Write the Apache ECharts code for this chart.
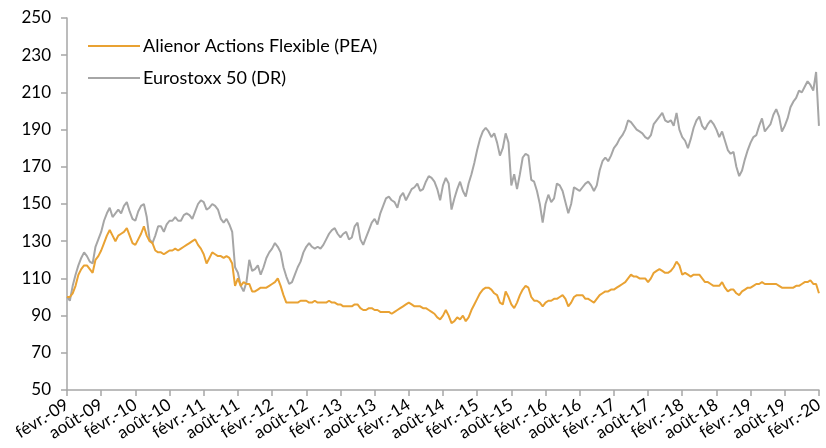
<!DOCTYPE html>
<html>
<head>
<meta charset="utf-8">
<script src="https://cdn.jsdelivr.net/npm/echarts@6/dist/echarts.min.js"></script>
<style>html,body{margin:0;padding:0;background:#fff;}#c{width:826px;height:448px;}</style>
</head>
<body>
<div id="c"></div>
<script>
// Semi-monthly readings, Feb 2009 -> Feb 2020
var tickLabels = ['févr.-09','août-09','févr.-10','août-10','févr.-11','août-11','févr.-12','août-12','févr.-13','août-13','févr.-14','août-14','févr.-15','août-15','févr.-16','août-16','févr.-17','août-17','févr.-18','août-18','févr.-19','août-19','févr.-20'];
var seriesNames = ['Alienor Actions Flexible (PEA)', 'Eurostoxx 50 (DR)'];
var alienor = [
100,100,102,106,112,115,117,117,115,113,
120,122,125,129,133,136,133,130,133,134,
135,137,133,129,128,131,134,138,133,130,
129,125,124,124,123,124,125,125,126,125,
126,127,128,129,130,131,128,126,123,118,
121,124,123,122,122,121,122,121,118,106,
110,106,108,107,107,103,103,104,105,105,
105,106,107,108,110,106,101,97,97,97,
97,97,98,98,98,97,97,98,97,97,
97,97,98,97,97,96,96,95,95,95,
95,96,96,94,93,93,94,94,93,93,
92,92,92,92,91,92,93,94,95,96,
97,96,95,95,95,94,94,93,92,91,
89,88,90,93,90,86,87,89,88,90,
87,89,93,96,99,102,104,105,105,104,
102,101,97,96,103,100,96,94,97,101,
104,106,105,100,98,98,97,95,97,98,
98,99,99,100,101,99,95,97,100,101,
101,101,99,99,98,97,99,101,102,103,
103,104,104,105,106,107,108,110,112,111,
111,110,110,110,108,110,113,114,115,114,
113,113,114,116,119,117,112,113,112,111,
112,112,112,110,108,108,107,106,106,106,
108,105,103,104,104,102,101,103,104,105,
105,106,107,107,108,107,107,107,107,107,
106,105,105,105,105,105,106,106,107,108,
108,109,107,107,102
];
var eurostoxx = [
100,98,106,112,117,121,124,122,119,118,
127,131,135,141,145,148,143,145,147,145,
149,151,146,142,141,146,149,150,143,131,
129,133,138,138,135,139,141,141,143,141,
141,144,145,144,142,146,150,152,151,147,
148,150,149,147,142,140,142,139,135,116,
113,106,103,108,120,114,115,117,112,116,
121,124,126,129,127,124,116,111,107,108,
112,116,119,124,127,129,127,126,127,126,
128,131,134,136,137,134,132,134,135,131,
132,138,140,131,128,132,136,140,142,139,
145,149,153,154,152,151,148,154,156,152,
155,158,159,161,157,158,162,165,164,162,
158,152,160,164,161,147,153,158,162,157,
154,161,166,172,179,185,189,191,189,186,
188,183,176,180,188,183,160,166,158,166,
175,177,176,163,162,157,150,140,150,155,
151,153,161,160,157,151,145,150,159,158,
157,159,161,162,160,157,160,168,173,175,
173,176,180,182,185,187,190,195,194,192,
190,189,188,186,185,187,193,195,197,199,
195,194,195,192,199,190,186,184,180,185,
191,195,197,192,190,193,195,193,190,186,
189,184,179,177,178,170,165,168,174,179,
183,186,187,192,196,189,191,193,198,201,
197,189,192,196,202,205,207,211,210,213,
216,214,211,221,192
];
var categories = alienor.map(function(_, i){ return String(i); });

var chart = echarts.init(document.getElementById('c'), null, {renderer:'canvas'});
var font = 'Lato, "Open Sans", sans-serif';
chart.setOption({
  animation: false,
  backgroundColor: '#fff',
  grid: {left: 67, right: 3, top: 18, bottom: 58, containLabel: false},
  legend: {
    orient: 'vertical', left: 83, top: 32, itemWidth: 52, itemHeight: 2, itemGap: 14,
    icon: 'rect',
    textStyle: {fontFamily: font, fontSize: 18, color: '#000', padding: [0,0,0,-2]},
    data: seriesNames
  },
  xAxis: {
    type: 'category', data: categories, boundaryGap: false,
    axisLine: {lineStyle: {color: '#a6a6a6', width: 1.5}},
    axisTick: {show: true, interval: 11, length: 6, lineStyle: {color: '#a6a6a6', width: 1.5}},
    axisLabel: {interval: 11, rotate: 32, margin: 13, fontFamily: font, fontSize: 17, color: '#000',
      formatter: function(v, idx){ return tickLabels[Math.round(idx/12)] || ''; }},
    splitLine: {show: false}
  },
  yAxis: {
    type: 'value', min: 50, max: 250, interval: 20,
    axisLine: {show: true, lineStyle: {color: '#a6a6a6', width: 1.5}},
    axisTick: {show: true, length: 6, lineStyle: {color: '#a6a6a6', width: 1.5}},
    axisLabel: {fontFamily: font, fontSize: 17, color: '#000', margin: 16},
    splitLine: {show: false}
  },
  series: [
    {name: seriesNames[0], type: 'line', data: alienor, showSymbol: false, z: 3,
     lineStyle: {color: '#e9a233', width: 2}, itemStyle: {color: '#e9a233'}},
    {name: seriesNames[1], type: 'line', data: eurostoxx, showSymbol: false, z: 2,
     lineStyle: {color: '#a6a6a6', width: 2}, itemStyle: {color: '#a6a6a6'}}
  ]
});
</script>
</body>
</html>
